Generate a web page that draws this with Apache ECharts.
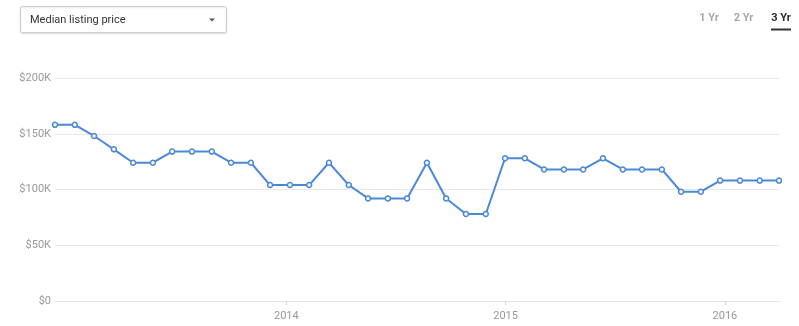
<!DOCTYPE html>
<html>
<head>
<meta charset="utf-8">
<script src="https://cdn.jsdelivr.net/npm/echarts@6/dist/echarts.min.js"></script>
<style>
  html, body { margin: 0; padding: 0; background: #fff; }
  #chart { width: 799px; height: 326px; }
</style>
</head>
<body>
<div id="chart"></div>
<script>
// Observation dates of the median listing price series
const dates = [
  '2012-12-12', '2013-01-14', '2013-02-15', '2013-03-20', '2013-04-21', '2013-05-24',
  '2013-06-25', '2013-07-28', '2013-08-30', '2013-10-01', '2013-11-03', '2013-12-05',
  '2014-01-07', '2014-02-08', '2014-03-13', '2014-04-15', '2014-05-17', '2014-06-19',
  '2014-07-21', '2014-08-23', '2014-09-24', '2014-10-27', '2014-11-29', '2014-12-31',
  '2015-02-02', '2015-03-06', '2015-04-08', '2015-05-10', '2015-06-12', '2015-07-15',
  '2015-08-16', '2015-09-18', '2015-10-20', '2015-11-22', '2015-12-24', '2016-01-26',
  '2016-02-28', '2016-03-31'
];

// Median listing price, in thousands of dollars
const priceK = [
  158, 158, 148, 136, 124, 124,
  134, 134, 134, 124, 124, 104,
  104, 104, 124, 104, 92, 92,
  92, 124, 92, 78, 78, 128,
  128, 118, 118, 118, 128, 118,
  118, 118, 98, 98, 108, 108,
  108, 108
];

// Year boundaries labelled on the date axis
const yearTicks = ['2014', '2015', '2016'];

// Range buttons in the top-right corner
const rangeButtons = ['1 Yr', '2 Yr', '3 Yr'];
const activeRange = '3 Yr';

const metricName = 'Median listing price';

const FONT = 'Roboto, "Noto Sans", sans-serif';
const LINE_BLUE = '#4a89d8';

const toStamp = s => {
  const [y, m, d] = s.split('-').map(Number);
  return Date.UTC(y, m - 1, d);
};
const yearStamps = yearTicks.map(y => Date.UTC(+y, 0, 1));
const seriesData = dates.map((d, i) => [toStamp(d), priceK[i] * 1000]);

const chart = echarts.init(document.getElementById('chart'), null, { renderer: 'canvas' });

// Range selector texts
const rangeX = [709, 743.5, 781];
const rangeGraphics = rangeButtons.map((label, i) => ({
  type: 'text',
  x: rangeX[i],
  y: 18.5,
  style: {
    text: label,
    fontFamily: FONT,
    fontSize: 11,
    fontWeight: 'bold',
    fill: label === activeRange ? '#2b2b2b' : '#a8a8a8',
    align: 'center',
    verticalAlign: 'middle'
  }
}));

chart.setOption({
  animation: false,
  backgroundColor: '#fff',
  grid: { left: 55, right: 20, top: 78, bottom: 25, containLabel: false },
  xAxis: {
    type: 'value',
    min: toStamp(dates[0]),
    max: toStamp(dates[dates.length - 1]),
    axisLine: { show: true, lineStyle: { color: '#e3e3e3', width: 1 } },
    axisTick: {
      show: true,
      length: 4,
      customValues: yearStamps,
      lineStyle: { color: '#d8d8d8' }
    },
    axisLabel: {
      customValues: yearStamps,
      formatter: v => String(new Date(v).getUTCFullYear()),
      color: '#999',
      fontFamily: FONT,
      fontSize: 11,
      margin: 10
    },
    splitLine: { show: false }
  },
  yAxis: {
    type: 'value',
    min: 0,
    max: 200000,
    interval: 50000,
    axisLine: { show: false },
    axisTick: { show: false },
    axisLabel: {
      formatter: v => (v === 0 ? '$0' : '$' + v / 1000 + 'K'),
      color: '#999',
      fontFamily: FONT,
      fontSize: 11,
      margin: 4
    },
    splitLine: { lineStyle: { color: '#e8e8e8', width: 1 } }
  },
  series: [{
    type: 'line',
    name: metricName,
    data: seriesData,
    symbol: 'circle',
    symbolSize: 5,
    showAllSymbol: true,
    lineStyle: { color: LINE_BLUE, width: 2 },
    itemStyle: { color: '#fff', borderColor: LINE_BLUE, borderWidth: 1.5 },
    z: 3
  }],
  graphic: [
    // Metric selector box
    {
      type: 'rect',
      shape: { x: 20.5, y: 6.5, width: 206, height: 26, r: 2 },
      style: {
        fill: '#fff',
        stroke: '#cfcfcf',
        lineWidth: 1,
        shadowBlur: 2,
        shadowColor: 'rgba(0,0,0,0.12)',
        shadowOffsetY: 1
      }
    },
    {
      type: 'text',
      x: 30,
      y: 20,
      style: {
        text: metricName,
        fontFamily: FONT,
        fontSize: 11,
        fill: '#333',
        verticalAlign: 'middle'
      }
    },
    {
      type: 'polygon',
      shape: { points: [[209, 18.5], [215, 18.5], [212, 21.5]] },
      style: { fill: '#555' }
    },
    ...rangeGraphics,
    // Underline of the active range
    {
      type: 'rect',
      shape: { x: 771, y: 28.5, width: 20, height: 2 },
      style: { fill: '#333' }
    }
  ]
});
</script>
</body>
</html>
